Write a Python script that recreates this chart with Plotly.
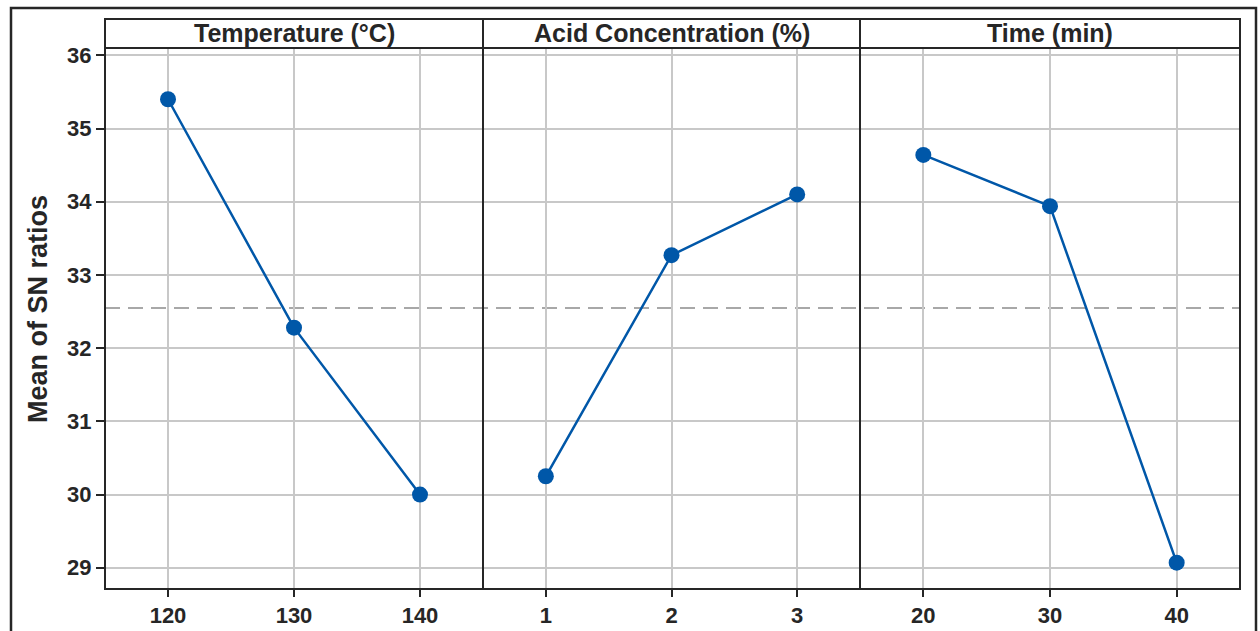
import plotly.graph_objects as go

# Main effects of the factors on the mean signal-to-noise ratio
factors = ["Temperature (°C)", "Acid Concentration (%)", "Time (min)"]
levels = [["120", "130", "140"], ["1", "2", "3"], ["20", "30", "40"]]
sn_means = [[35.40, 32.28, 30.00], [30.25, 33.27, 34.10], [34.64, 33.94, 29.07]]
grand_mean = 32.55
y_title = "Mean of SN ratios"

W, H = 1260, 631
L, R, T, B = 105, 20, 19, 42
plot_w = W - L - R
plot_h = H - T - B
header_px = 29
y_top = 1 - header_px / plot_h

# panel boundaries in pixels -> paper fractions
edges_px = [105, 483, 860, 1240]
edges = [(e - L) / plot_w for e in edges_px]

FONT = "Liberation Sans, Arial, Helvetica, sans-serif"
DARK = "#262626"
BLUE = "#0057a8"
GRID = "#c8c8c8"

fig = go.Figure()
for i in range(3):
    sfx = "" if i == 0 else str(i + 1)
    fig.add_trace(go.Scatter(
        x=[0, 1, 2], y=sn_means[i], mode="lines+markers",
        line=dict(color=BLUE, width=2.5),
        marker=dict(color=BLUE, size=16),
        xaxis="x" + sfx, yaxis="y" + sfx, showlegend=False,
        hoverinfo="x+y",
    ))
    fig.layout["xaxis" + sfx] = dict(
        domain=[edges[i], edges[i + 1]], anchor="y" + sfx, automargin=False,
        range=[-0.5, 2.5], tickvals=[0, 1, 2], ticktext=levels[i],
        showgrid=True, gridcolor=GRID, gridwidth=1.5, zeroline=False,
        ticks="outside", ticklen=7, tickwidth=1.5, tickcolor=DARK,
        tickfont=dict(family=FONT, size=22, color=DARK, weight="bold"),
        showline=False, fixedrange=True,
    )
    yax = dict(
        domain=[0, y_top], anchor="x" + sfx, automargin=False,
        range=[28.71, 36.10], tickvals=list(range(29, 37)),
        showgrid=True, gridcolor=GRID, gridwidth=1.5, zeroline=False,
        showline=False, fixedrange=True,
    )
    if i == 0:
        yax.update(
            ticks="outside", ticklen=8, tickwidth=1.5, tickcolor=DARK,
            tickfont=dict(family=FONT, size=22, color=DARK, weight="bold"),
        )
    else:
        yax.update(showticklabels=False, matches="y")
    fig.layout["yaxis" + sfx] = yax

shapes = []
# grand mean reference line across all panels
shapes.append(dict(type="line", xref="paper", yref="y", x0=0, x1=1,
                   y0=grand_mean, y1=grand_mean,
                   line=dict(color="#a8a8a8", width=2, dash="15px,8px"), layer="below"))
# plot frame, header strip and panel dividers
shapes.append(dict(type="rect", xref="paper", yref="paper", x0=0, x1=1, y0=0, y1=1,
                   line=dict(color=DARK, width=2)))
shapes.append(dict(type="line", xref="paper", yref="paper", x0=0, x1=1, y0=y_top, y1=y_top,
                   line=dict(color=DARK, width=2)))
for e in edges[1:3]:
    shapes.append(dict(type="line", xref="paper", yref="paper", x0=e, x1=e, y0=0, y1=1,
                       line=dict(color=DARK, width=2)))
# outer frame
shapes.append(dict(type="rect", xref="paper", yref="paper",
                   x0=(11 - L) / plot_w, x1=(1256 - L) / plot_w,
                   y0=(T + plot_h - 660) / plot_h, y1=(T + plot_h - 8) / plot_h,
                   line=dict(color=DARK, width=2.5)))

annotations = []
for i in range(3):
    annotations.append(dict(
        text=factors[i], xref="paper", yref="paper",
        x=(edges[i] + edges[i + 1]) / 2, y=(y_top + 1) / 2,
        xanchor="center", yanchor="middle", showarrow=False,
        font=dict(family=FONT, size=25, color=DARK, weight="bold"),
    ))
# vertical axis title
annotations.append(dict(
    text=y_title, xref="paper", yref="paper",
    x=(38 - L) / plot_w, y=(T + plot_h - 309) / plot_h,
    xanchor="center", yanchor="middle", textangle=-90, showarrow=False,
    font=dict(family=FONT, size=27, color=DARK, weight="bold"),
))

fig.update_layout(
    width=W, height=H,
    margin=dict(l=L, r=R, t=T, b=B, autoexpand=False),
    paper_bgcolor="white", plot_bgcolor="white",
    shapes=shapes, annotations=annotations,
)

fig.write_html("out.html", config={"displayModeBar": False})
